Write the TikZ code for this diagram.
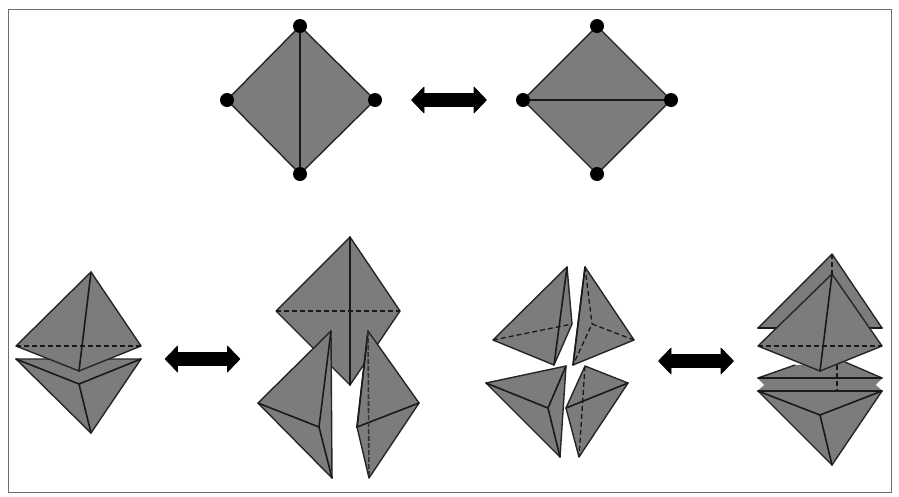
\documentclass[tikz,border=0pt]{standalone}
\definecolor{facegray}{HTML}{7C7C7C}
\definecolor{framegray}{HTML}{6E6E6E}
\tikzset{
  face/.style={fill=facegray,draw=black!85,line width=1.4pt,line join=round},
  ridge/.style={draw=black!90,line width=1.6pt,line cap=round},
  hidden/.style={draw=black!90,line width=1.3pt,dash pattern=on 5pt off 3pt},
  faint/.style={draw=black!80,line width=1.6pt,dash pattern=on 5pt off 2pt},
  vertexdot/.style={circle,fill=black,inner sep=0pt,minimum size=14pt},
  bigarrow/.style={fill=black,draw=black,line width=.6pt,line join=round}
}
\newcommand{\dblarrow}[1]{%
  \filldraw[bigarrow,shift={(#1,0)}] (-37.5,0) -- (-25,-13) -- (-25,-6.5) -- (25,-6.5) -- (25,-13) -- (37.5,0) -- (25,13) -- (25,6.5) -- (-25,6.5) -- (-25,13) -- cycle;}
\begin{document}
\begin{tikzpicture}[x=1pt,y=-1pt]
\useasboundingbox (0,0) rectangle (899,496);
\fill[white] (0,0) rectangle (899,496);
\draw[framegray,line width=1pt] (8.5,9.5) rectangle (891,492);

% top row, left square
\coordinate (at) at (300,26); \coordinate (ar) at (375,100);
\coordinate (ab) at (300,174); \coordinate (al) at (227,100);
\draw[face] (at) -- (ar) -- (ab) -- (al) -- cycle;
\draw[ridge] (at) -- (ab);
\foreach \p in {at,ar,ab,al} \node[vertexdot] at (\p) {};
% top row, right square
\coordinate (bt) at (597,26); \coordinate (br) at (671,100);
\coordinate (bb) at (597,174); \coordinate (bl) at (523,100);
\draw[face] (bt) -- (br) -- (bb) -- (bl) -- cycle;
\draw[ridge] (bl) -- (br);
\foreach \p in {bt,br,bb,bl} \node[vertexdot] at (\p) {};
% arrows
\begin{scope}[yshift=-100pt]\dblarrow{449}\end{scope}
\begin{scope}[yshift=-359pt]\dblarrow{202.5}\end{scope}
\begin{scope}[yshift=-361pt]\dblarrow{696}\end{scope}

% shape 1: lower part
\coordinate (c1) at (16,359); \coordinate (c2) at (141,359);
\coordinate (c3) at (79,384); \coordinate (c4) at (91,433);
\draw[face] (c1) -- (c2) -- (c4) -- cycle;
\draw[ridge] (c1) -- (c3) -- (c2) (c3) -- (c4);
% shape 1: upper part
\coordinate (d1) at (91,272); \coordinate (d2) at (141,346);
\coordinate (d3) at (79,371); \coordinate (d4) at (16,346);
\draw[face] (d1) -- (d2) -- (d3) -- (d4) -- cycle;
\draw[ridge] (d1) -- (d3);
\draw[hidden] (d4) -- (d2);

% shape 2: square
\coordinate (e1) at (350,237); \coordinate (e2) at (400,311);
\coordinate (e3) at (350,385); \coordinate (e4) at (276,311);
\draw[face] (e1) -- (e2) -- (e3) -- (e4) -- cycle;
\draw[ridge] (e1) -- (e3);
\draw[hidden] (e4) -- (e2);
% shape 2: left piece
\coordinate (f1) at (331,331); \coordinate (f2) at (258,403);
\coordinate (f3) at (332,478); \coordinate (f4) at (319,427);
\draw[face] (f1) -- (f2) -- (f3) -- cycle;
\draw[ridge] (f2) -- (f4) -- (f1) (f4) -- (f3);
% shape 2: right piece
\coordinate (g1) at (368,331); \coordinate (g2) at (419,403);
\coordinate (g3) at (369,478); \coordinate (g4) at (357,427);
\draw[face] (g1) -- (g2) -- (g3) -- (g4) -- cycle;
\draw[ridge] (g2) -- (g4) -- (g1);
\draw[faint] (g1) -- (g3);

% shape 3: upper left
\coordinate (h1) at (567,267); \coordinate (h2) at (572,324);
\coordinate (h3) at (554,365); \coordinate (h4) at (493,340);
\draw[face] (h1) -- (h2) -- (h3) -- (h4) -- cycle;
\draw[ridge] (h1) -- (h3);
\draw[hidden] (h4) -- (h2);
% shape 3: upper right
\coordinate (i1) at (585,267); \coordinate (i2) at (634,340);
\coordinate (i3) at (573,365); \coordinate (i4) at (592,324);
\draw[face] (i1) -- (i2) -- (i3) -- cycle;
\draw[ridge] (i1) -- (i3);
\draw[hidden] (i1) -- (i4) (i2) -- (i4) -- (i3);
% shape 3: lower left
\coordinate (j1) at (566,366); \coordinate (j2) at (560,457);
\coordinate (j3) at (486,383); \coordinate (j4) at (548,408);
\draw[face] (j1) -- (j2) -- (j3) -- cycle;
\draw[ridge] (j3) -- (j4) -- (j1) (j4) -- (j2);
% shape 3: lower right
\coordinate (k1) at (585,366); \coordinate (k2) at (628,383);
\coordinate (k3) at (579,457); \coordinate (k4) at (566,408);
\draw[face] (k1) -- (k2) -- (k3) -- (k4) -- cycle;
\draw[ridge] (k4) -- (k2);
\draw[hidden] (k1) -- (k3);

% shape 4: back top
\coordinate (l1) at (832,254); \coordinate (l2) at (882,328); \coordinate (l3) at (758,328);
\draw[face] (l1) -- (l2) -- (l3) -- cycle;
\draw[ridge] (l3) -- (l2);
% shape 4: lower
\coordinate (n1) at (758,391); \coordinate (n2) at (882,391);
\coordinate (n3) at (820,415); \coordinate (n4) at (832,465);
\coordinate (o1) at (758,378); \coordinate (o2) at (882,378);
\coordinate (o3) at (845,362); \coordinate (o4) at (795,365);
\coordinate (o5) at (765,385); \coordinate (o6) at (875,385);
\fill[facegray] (o1) -- (o4) -- (o3) -- (o2) -- (o6) -- (n2) -- (n1) -- (o5) -- cycle;
\draw[draw=facegray,line width=1pt] (o1) -- (o5) -- (n1) (o2) -- (o6) -- (n2);
\draw[face,fill=none] (o1) -- (o4) (o3) -- (o2);
\draw[ridge] (o1) -- (o2);
\draw[face] (n1) -- (n2) -- (n4) -- cycle;
\draw[ridge] (n1) -- (n2) (n1) -- (n3) -- (n2) (n3) -- (n4);
\coordinate (o7) at (837,365); \coordinate (o8) at (837,391);
\draw[hidden] (o7) -- (o8);
% shape 4: front top
\coordinate (m1) at (832,274); \coordinate (m2) at (882,346);
\coordinate (m3) at (820,371); \coordinate (m4) at (758,346);
\draw[face] (m1) -- (m2) -- (m3) -- (m4) -- cycle;
\draw[ridge] (m1) -- (m3);
\draw[hidden] (m4) -- (m2);
\draw[hidden] (l1) -- (m1);
\end{tikzpicture}
\end{document}
